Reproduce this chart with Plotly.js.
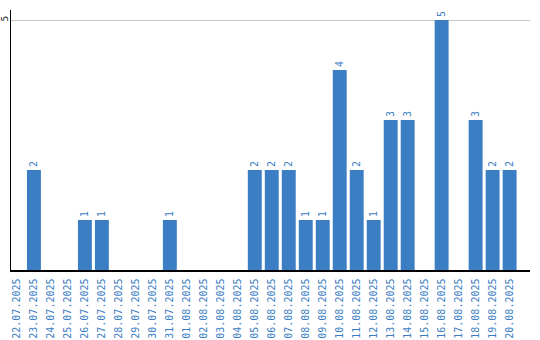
<!DOCTYPE html>
<html><head><meta charset="utf-8">
<script src="https://cdn.plot.ly/plotly-3.0.1.min.js"></script>
<style>html,body{margin:0;padding:0;background:#fff}#c{width:540px;height:340px}</style>
</head><body><div id="c"></div>
<script>
const dates = ["22.07.2025","23.07.2025","24.07.2025","25.07.2025","26.07.2025","27.07.2025","28.07.2025","29.07.2025","30.07.2025","31.07.2025","01.08.2025","02.08.2025","03.08.2025","04.08.2025","05.08.2025","06.08.2025","07.08.2025","08.08.2025","09.08.2025","10.08.2025","11.08.2025","12.08.2025","13.08.2025","14.08.2025","15.08.2025","16.08.2025","17.08.2025","18.08.2025","19.08.2025","20.08.2025"];
const counts = [0,2,0,0,1,1,0,0,0,1,0,0,0,0,2,2,2,1,1,4,2,1,3,3,0,5,0,3,2,2];
const labels = counts.map(v => v > 0 ? String(v) : "");
const blue = "#3b7ec4";
Plotly.newPlot("c", [{
  type: "bar", x: dates, y: counts, text: labels,
  textposition: "outside", textangle: -90, cliponaxis: false,
  textfont: {family: "DejaVu Sans Mono, monospace", size: 10, color: blue},
  marker: {color: blue}, hoverinfo: "none"
}], {
  width: 540, height: 340,
  margin: {l: 11, r: 10, t: 10, b: 70, pad: 0},
  paper_bgcolor: "#fff", plot_bgcolor: "#fff",
  bargap: 0.18, showlegend: false,
  xaxis: {type: "category", range: [-0.35, 30.2], tickangle: -90, showline: true, linecolor: "#000", linewidth: 1.5,
    showgrid: false, ticks: "", ticklabelstandoff: 3, tickfont: {family: "DejaVu Sans Mono, monospace", size: 10, color: blue}},
  yaxis: {range: [0, 5.2], tickvals: [5], ticktext: ["5"], tickangle: -90, showline: true, linecolor: "#000", linewidth: 1.5,
    showgrid: true, gridcolor: "#c8c8c8", zeroline: false, ticks: "", ticklabelstandoff: -2,
    tickfont: {family: "DejaVu Sans Mono, monospace", size: 9.5, color: "#222"}}
}, {staticPlot: true});
</script></body></html>
